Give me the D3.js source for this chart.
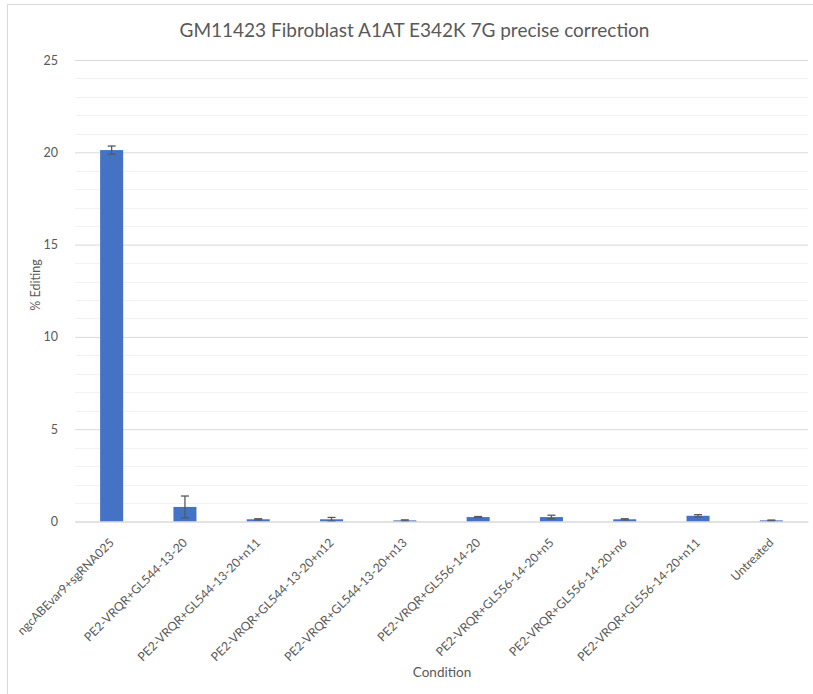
<!DOCTYPE html>
<html>
<head>
<meta charset="utf-8">
<script src="https://cdn.jsdelivr.net/npm/d3@7"></script>
<style>
  html, body { margin: 0; padding: 0; background: #fff; }
  svg { display: block; }
  text { font-family: Lato, "Open Sans", sans-serif; fill: #595959; }
</style>
</head>
<body>
<div id="chart"></div>
<script>
// Conditions tested and their % editing (mean with error)
const categories = [
  "ngcABEvar9+sgRNA025",
  "PE2-VRQR+GL544-13-20",
  "PE2-VRQR+GL544-13-20+n11",
  "PE2-VRQR+GL544-13-20+n12",
  "PE2-VRQR+GL544-13-20+n13",
  "PE2-VRQR+GL556-14-20",
  "PE2-VRQR+GL556-14-20+n5",
  "PE2-VRQR+GL556-14-20+n6",
  "PE2-VRQR+GL556-14-20+n11",
  "Untreated"
];
const editing = [20.12, 0.79, 0.12, 0.12, 0.06, 0.24, 0.24, 0.12, 0.31, 0.06];
const errors  = [0.22, 0.59, 0.03, 0.10, 0.03, 0.03, 0.10, 0.03, 0.06, 0.02];
const yTicks = [0, 5, 10, 15, 20, 25];
const yMinorTicks = d3.range(0, 26, 1);

const W = 813, H = 694;
const margin = { left: 75, right: 5, top: 60, bottom: 172.5 };
const plotW = W - margin.left - margin.right;
const plotH = H - margin.top - margin.bottom;

const svg = d3.select("#chart").append("svg")
  .attr("width", W).attr("height", H);

// chart area frame
svg.append("rect")
  .attr("x", 7.5).attr("y", 4.5)
  .attr("width", W + 20).attr("height", H + 20)
  .attr("fill", "#fff").attr("stroke", "#d9d9d9").attr("stroke-width", 1);

const g = svg.append("g").attr("transform", `translate(${margin.left},${margin.top})`);

const x = d3.scaleBand().domain(categories).range([0, plotW]).paddingInner(0.686).paddingOuter(0.343);
const y = d3.scaleLinear().domain([0, 25]).range([plotH, 0]);

// minor gridlines
g.append("g").selectAll("line").data(yMinorTicks.filter(v => v % 5 !== 0)).join("line")
  .attr("x1", 0).attr("x2", plotW)
  .attr("y1", d => Math.round(y(d)) + 0.5).attr("y2", d => Math.round(y(d)) + 0.5)
  .attr("stroke", "#f2f2f2").attr("stroke-width", 1);

// major gridlines + y labels via axis
const yAxis = d3.axisLeft(y).tickValues(yTicks).tickSize(-plotW).tickPadding(17);
const ya = g.append("g").call(yAxis);
ya.select(".domain").remove();
ya.selectAll(".tick line").attr("stroke", "#d9d9d9");
ya.selectAll(".tick text").attr("font-size", 12.5).style("fill", "#595959")
  .style("font-family", "Lato, 'Open Sans', sans-serif");

// bars
g.append("g").selectAll("rect").data(categories).join("rect")
  .attr("x", d => x(d))
  .attr("width", x.bandwidth())
  .attr("y", (d, i) => y(editing[i]))
  .attr("height", (d, i) => y(0) - y(editing[i]))
  .attr("fill", "#4472c4");

// error bars
const eb = g.append("g").attr("stroke", "#595959").attr("stroke-width", 1.3);
categories.forEach((c, i) => {
  const cx = x(c) + x.bandwidth() / 2;
  const lo = y(editing[i] - errors[i]), hi = y(editing[i] + errors[i]);
  eb.append("line").attr("x1", cx).attr("x2", cx).attr("y1", lo).attr("y2", hi);
  eb.append("line").attr("x1", cx - 4).attr("x2", cx + 4).attr("y1", hi).attr("y2", hi);
  eb.append("line").attr("x1", cx - 4).attr("x2", cx + 4).attr("y1", lo).attr("y2", lo);
});

// x axis line and labels
const xAxis = d3.axisBottom(x).tickSize(0).tickPadding(0);
const xa = g.append("g").attr("transform", `translate(0,${plotH})`).call(xAxis);
xa.select(".domain").attr("stroke", "#d9d9d9");
xa.selectAll(".tick text")
  .attr("font-size", 12.2)
  .style("fill", "#595959")
  .style("font-family", "Lato, 'Open Sans', sans-serif")
  .attr("text-anchor", "end")
  .attr("dy", null)
  .attr("y", 0)
  .attr("transform", "translate(3,22) rotate(-45)");

// titles
svg.append("text")
  .attr("x", 414.5).attr("y", 37)
  .attr("text-anchor", "middle")
  .attr("font-size", 19)
  .text("GM11423 Fibroblast A1AT E342K 7G precise correction");

svg.append("text")
  .attr("transform", `translate(40,285) rotate(-90)`)
  .attr("text-anchor", "middle")
  .attr("font-size", 12.5)
  .text("% Editing");

svg.append("text")
  .attr("x", 442).attr("y", 677)
  .attr("text-anchor", "middle")
  .attr("font-size", 13.5)
  .text("Condition");
</script>
</body>
</html>
